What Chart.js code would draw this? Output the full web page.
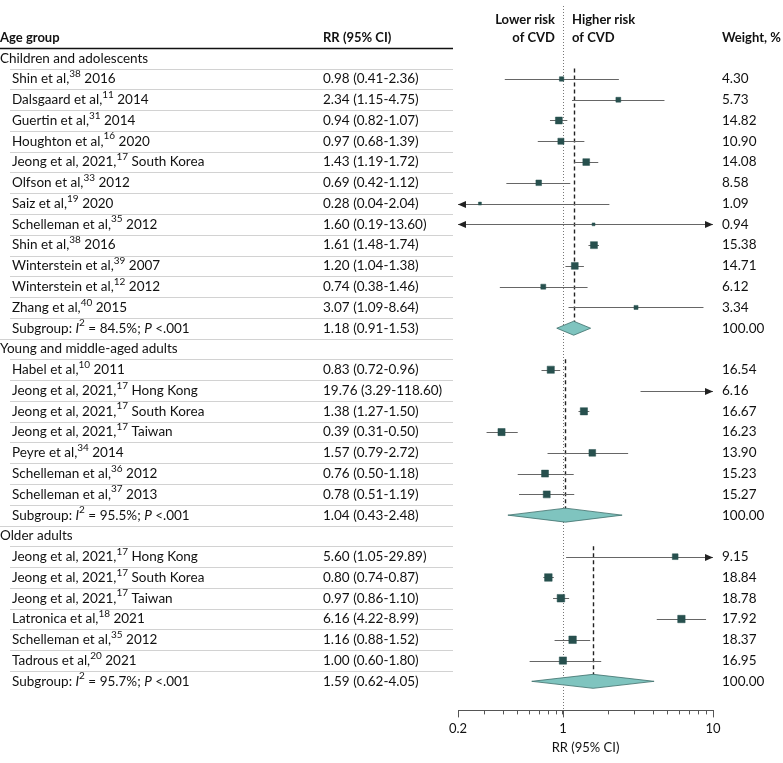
<!DOCTYPE html>
<html>
<head>
<meta charset="utf-8">
<script src="https://cdn.jsdelivr.net/npm/chart.js@4.4.0/dist/chart.umd.min.js"></script>
<style>
  body { margin: 0; background: #fff; }
  #cvs_forest { display: block; }
</style>
</head>
<body>
<canvas id="cvs_forest" width="783" height="763"></canvas>
<script>
// Dados do forest plot
const groupNames = ["Children and adolescents", "Young and middle-aged adults", "Older adults"];

const studyNames = [
  "Shin et al,^38^ 2016", "Dalsgaard et al,^11^ 2014", "Guertin et al,^31^ 2014",
  "Houghton et al,^16^ 2020", "Jeong et al, 2021,^17^ South Korea", "Olfson et al,^33^ 2012",
  "Saiz et al,^19^ 2020", "Schelleman et al,^35^ 2012", "Shin et al,^38^ 2016",
  "Winterstein et al,^39^ 2007", "Winterstein et al,^12^ 2012", "Zhang et al,^40^ 2015",
  "Habel et al,^10^ 2011", "Jeong et al, 2021,^17^ Hong Kong", "Jeong et al, 2021,^17^ South Korea",
  "Jeong et al, 2021,^17^ Taiwan", "Peyre et al,^34^ 2014", "Schelleman et al,^36^ 2012",
  "Schelleman et al,^37^ 2013",
  "Jeong et al, 2021,^17^ Hong Kong", "Jeong et al, 2021,^17^ South Korea", "Jeong et al, 2021,^17^ Taiwan",
  "Latronica et al,^18^ 2021", "Schelleman et al,^35^ 2012", "Tadrous et al,^20^ 2021"
];
const studyGroup = [0,0,0,0,0,0,0,0,0,0,0,0, 1,1,1,1,1,1,1, 2,2,2,2,2,2];
const studyRR = [0.98, 2.34, 0.94, 0.97, 1.43, 0.69, 0.28, 1.60, 1.61, 1.20, 0.74, 3.07,
  0.83, 19.76, 1.38, 0.39, 1.57, 0.76, 0.78,
  5.60, 0.80, 0.97, 6.16, 1.16, 1.00];
const studyLower = [0.41, 1.15, 0.82, 0.68, 1.19, 0.42, 0.04, 0.19, 1.48, 1.04, 0.38, 1.09,
  0.72, 3.29, 1.27, 0.31, 0.79, 0.50, 0.51,
  1.05, 0.74, 0.86, 4.22, 0.88, 0.60];
const studyUpper = [2.36, 4.75, 1.07, 1.39, 1.72, 1.12, 2.04, 13.60, 1.74, 1.38, 1.46, 8.64,
  0.96, 118.60, 1.50, 0.50, 2.72, 1.18, 1.19,
  29.89, 0.87, 1.10, 8.99, 1.52, 1.80];
const studyWeight = [4.30, 5.73, 14.82, 10.90, 14.08, 8.58, 1.09, 0.94, 15.38, 14.71, 6.12, 3.34,
  16.54, 6.16, 16.67, 16.23, 13.90, 15.23, 15.27,
  9.15, 18.84, 18.78, 17.92, 18.37, 16.95];

const subgroupStats = ["Subgroup: *I*^2^ = 84.5%; *P* <.001", "Subgroup: *I*^2^ = 95.5%; *P* <.001", "Subgroup: *I*^2^ = 95.7%; *P* <.001"];
const subgroupRR = [1.18, 1.04, 1.59];
const subgroupLower = [0.91, 0.43, 0.62];
const subgroupUpper = [1.53, 2.48, 4.05];
const subgroupWeight = [100.00, 100.00, 100.00];

const axisTicks = [0.2, 0.3, 0.4, 0.5, 0.6, 0.7, 0.8, 0.9, 1, 2, 3, 4, 5, 6, 7, 8, 9, 10];
const axisLabels = [0.2, 1, 10];
const axisTitle = "RR (95% CI)";

const X_MIN = 0.2, X_MAX = 10;
const FONT = 'Lato, "Noto Sans", sans-serif';
const FONT_SIZE = 13.5;

// monta as linhas da tabela (grupo, estudos, subgrupo)
const rows = [];
groupNames.forEach(function (nome, g) {
  rows.push({ tipo: "grupo", g: g });
  studyGroup.forEach(function (sg, i) {
    if (sg == g) rows.push({ tipo: "estudo", i: i });
  });
  rows.push({ tipo: "subgrupo", g: g });
});

function rrTexto(rr, lo, hi) {
  return rr.toFixed(2) + " (" + lo.toFixed(2) + "-" + hi.toFixed(2) + ")";
}

function tamanhoQuadrado(w) {
  return 1.5 + 1.4 * Math.sqrt(w);
}

// texto com sobrescrito ^..^ e itálico *..*
function drawRich(ctx, text, x, y, align, weight, size) {
  const tam = size || FONT_SIZE;
  const partes = text.split(/(\^[^^]+\^|\*[^*]+\*)/).filter(function (p) { return p.length > 0; });
  const pecas = partes.map(function (p) {
    if (p[0] == "^") return { t: p.slice(1, -1), font: weight + " " + Math.round(tam * 0.72) + "px " + FONT, dy: -tam * 0.38 };
    if (p[0] == "*") return { t: p.slice(1, -1), font: "italic " + weight + " " + tam + "px " + FONT, dy: 0 };
    return { t: p, font: weight + " " + tam + "px " + FONT, dy: 0 };
  });
  let total = 0;
  pecas.forEach(function (pc) { ctx.font = pc.font; pc.w = ctx.measureText(pc.t).width; total += pc.w; });
  let cx = x;
  if (align == "right") cx = x - total;
  if (align == "center") cx = x - total / 2;
  ctx.textAlign = "left";
  ctx.textBaseline = "middle";
  pecas.forEach(function (pc) {
    ctx.font = pc.font;
    ctx.fillText(pc.t, cx, y + pc.dy);
    cx += pc.w;
  });
}

function seta(ctx, x, y, dir) {
  ctx.beginPath();
  ctx.moveTo(x, y);
  ctx.lineTo(x - dir * 8, y - 3.5);
  ctx.lineTo(x - dir * 8, y + 3.5);
  ctx.closePath();
  ctx.fill();
}

const forestPlugin = {
  id: "forest",
  beforeDatasetsDraw: function (chart) {
    const ctx = chart.ctx;
    const x = chart.scales.x, y = chart.scales.y, area = chart.chartArea;
    ctx.save();

    // linhas da tabela
    const tabelaFim = 453;
    let yy = Math.round(y.getPixelForValue(-0.5)) + 0.5;
    ctx.strokeStyle = "#111";
    ctx.lineWidth = 1.5;
    ctx.beginPath(); ctx.moveTo(0, yy); ctx.lineTo(tabelaFim, yy); ctx.stroke();
    ctx.strokeStyle = "#d2d2d2";
    ctx.lineWidth = 1;
    rows.forEach(function (row, r) {
      if (r == rows.length - 1) return;
      const ly = Math.round(y.getPixelForValue(r + 0.5)) + 0.5;
      const inicio = row.tipo == "subgrupo" ? 0 : 10;
      ctx.beginPath(); ctx.moveTo(inicio, ly); ctx.lineTo(tabelaFim, ly); ctx.stroke();
    });

    // ticks maiores do eixo (0.2, 1, 10) um pouco mais longos
    ctx.strokeStyle = "#555";
    axisLabels.forEach(function (v) {
      const tx = Math.round(x.getPixelForValue(v)) + 0.5;
      ctx.beginPath(); ctx.moveTo(tx, area.bottom); ctx.lineTo(tx, area.bottom + 7); ctx.stroke();
    });

    // linha pontilhada em RR = 1
    const x1 = Math.round(x.getPixelForValue(1)) + 0.5;
    ctx.strokeStyle = "#777";
    ctx.setLineDash([1, 2]);
    ctx.beginPath(); ctx.moveTo(x1, area.top); ctx.lineTo(x1, area.bottom); ctx.stroke();

    // linhas tracejadas do efeito combinado de cada grupo
    ctx.strokeStyle = "#222";
    ctx.lineWidth = 1.4;
    ctx.setLineDash([4, 3]);
    groupNames.forEach(function (nome, g) {
      let primeiro = -1, sub = -1;
      rows.forEach(function (row, r) {
        if (row.tipo == "estudo" && studyGroup[row.i] == g && primeiro < 0) primeiro = r;
        if (row.tipo == "subgrupo" && row.g == g) sub = r;
      });
      const xd = Math.round(x.getPixelForValue(subgroupRR[g])) + 0.5;
      ctx.beginPath();
      ctx.moveTo(xd, y.getPixelForValue(primeiro - 0.5));
      ctx.lineTo(xd, y.getPixelForValue(sub));
      ctx.stroke();
    });
    ctx.setLineDash([]);

    // intervalos de confiança
    ctx.strokeStyle = "#666";
    ctx.fillStyle = "#222";
    ctx.lineWidth = 1;
    rows.forEach(function (row, r) {
      if (row.tipo != "estudo") return;
      const i = row.i;
      const lo = Math.max(studyLower[i], X_MIN), hi = Math.min(studyUpper[i], X_MAX);
      const py = Math.round(y.getPixelForValue(r)) + 0.5;
      const xa = x.getPixelForValue(lo), xb = x.getPixelForValue(hi);
      ctx.beginPath(); ctx.moveTo(xa, py); ctx.lineTo(xb, py); ctx.stroke();
      if (studyLower[i] < X_MIN) seta(ctx, xa, py, -1);
      if (studyUpper[i] > X_MAX) seta(ctx, xb, py, 1);
    });
    ctx.restore();
  },
  afterDatasetsDraw: function (chart) {
    const ctx = chart.ctx;
    const x = chart.scales.x, y = chart.scales.y, area = chart.chartArea;
    ctx.save();

    // diamantes dos subgrupos
    rows.forEach(function (row, r) {
      if (row.tipo != "subgrupo") return;
      const g = row.g;
      const py = y.getPixelForValue(r);
      ctx.beginPath();
      ctx.moveTo(x.getPixelForValue(subgroupLower[g]), py);
      ctx.lineTo(x.getPixelForValue(subgroupRR[g]), py - 7);
      ctx.lineTo(x.getPixelForValue(subgroupUpper[g]), py);
      ctx.lineTo(x.getPixelForValue(subgroupRR[g]), py + 7);
      ctx.closePath();
      ctx.fillStyle = "#7fc4bf";
      ctx.fill();
      ctx.strokeStyle = "#3d6e6b";
      ctx.lineWidth = 0.8;
      ctx.stroke();
    });

    // textos das colunas
    ctx.fillStyle = "#111";
    const colRR = 323, colPeso = 722;
    const yHead = y.getPixelForValue(-1);
    drawRich(ctx, "Age group", 0, yHead, "left", "bold", 13);
    drawRich(ctx, "RR (95% CI)", colRR, yHead, "left", "bold", 13);
    drawRich(ctx, "Weight, %", colPeso, yHead, "left", "bold", 13);
    drawRich(ctx, "Lower risk", 555, yHead - 18, "right", "bold", 13);
    drawRich(ctx, "of CVD", 555, yHead, "right", "bold", 13);
    drawRich(ctx, "Higher risk", 572, yHead - 18, "left", "bold", 13);
    drawRich(ctx, "of CVD", 572, yHead, "left", "bold", 13);

    rows.forEach(function (row, r) {
      const py = y.getPixelForValue(r);
      if (row.tipo == "grupo") {
        drawRich(ctx, groupNames[row.g], 0, py, "left", "normal");
      } else if (row.tipo == "estudo") {
        const i = row.i;
        drawRich(ctx, studyNames[i], 12, py, "left", "normal");
        drawRich(ctx, rrTexto(studyRR[i], studyLower[i], studyUpper[i]), colRR, py, "left", "normal");
        drawRich(ctx, studyWeight[i].toFixed(2), colPeso, py, "left", "normal");
      } else {
        const g = row.g;
        drawRich(ctx, subgroupStats[g], 12, py, "left", "normal");
        drawRich(ctx, rrTexto(subgroupRR[g], subgroupLower[g], subgroupUpper[g]), colRR, py, "left", "normal");
        drawRich(ctx, subgroupWeight[g].toFixed(2), colPeso, py, "left", "normal");
      }
    });

    // título do eixo x
    drawRich(ctx, axisTitle, (area.left + area.right) / 2, area.bottom + 37, "center", "normal", 13);
    ctx.restore();
  }
};

// pontos (quadrados) dos estudos
const pontos = [];
const tamanhos = [];
rows.forEach(function (row, r) {
  if (row.tipo != "estudo") return;
  const i = row.i;
  if (studyRR[i] < X_MIN || studyRR[i] > X_MAX) return;
  pontos.push({ x: studyRR[i], y: r });
  tamanhos.push(tamanhoQuadrado(studyWeight[i]));
});

new Chart(document.getElementById("cvs_forest"), {
  type: "scatter",
  data: {
    datasets: [{
      label: "RR",
      data: pontos,
      pointStyle: "rect",
      pointRadius: tamanhos.map(function (s) { return s / Math.SQRT2; }),
      pointHoverRadius: tamanhos.map(function (s) { return s / Math.SQRT2; }),
      backgroundColor: "#27504e",
      borderColor: "#27504e",
      borderWidth: 0.5,
    }],
  },
  options: {
    responsive: false,
    animation: false,
    devicePixelRatio: 1,
    layout: { padding: { left: 458, right: 70, top: 6, bottom: 19 } },
    plugins: { legend: { display: false }, tooltip: { enabled: false } },
    scales: {
      x: {
        type: "logarithmic",
        min: X_MIN,
        max: X_MAX,
        position: "bottom",
        afterBuildTicks: function (axis) {
          axis.ticks = axisTicks.map(function (v) { return { value: v }; });
        },
        ticks: {
          autoSkip: false,
          maxRotation: 0,
          padding: 7,
          color: "#111",
          font: { family: FONT, size: 13 },
          callback: function (v) { return axisLabels.indexOf(v) >= 0 ? String(v) : ""; },
        },
        grid: { drawOnChartArea: false, tickLength: 4, color: "#555" },
        border: { color: "#555", width: 1 },
        title: { display: false },
      },
      y: {
        type: "linear",
        display: false,
        reverse: true,
        min: -2.512,
        max: 31.40,
      },
    },
  },
  plugins: [forestPlugin],
});
</script>
</body>
</html>
